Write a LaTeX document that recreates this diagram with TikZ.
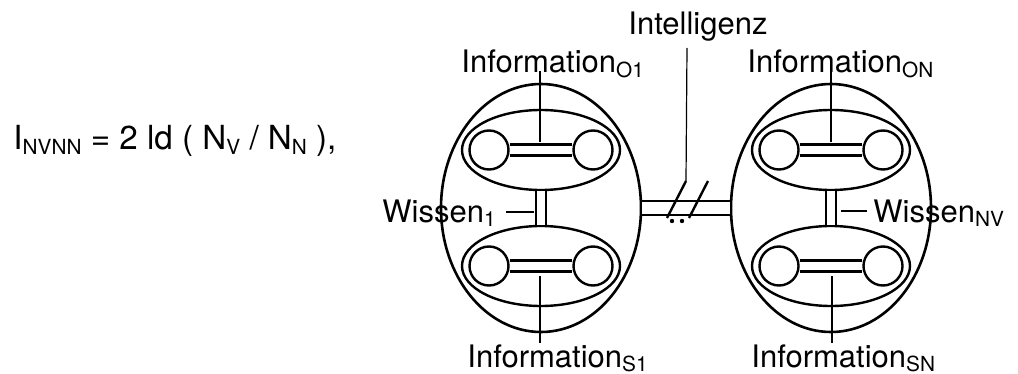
\documentclass[tikz,border=0pt]{standalone}
\usepackage{fontspec}
\setmainfont{TeX Gyre Heros}
\usetikzlibrary{shapes.geometric}

% small lowered index, as in the drawing
\newcommand{\idx}[1]{\raisebox{-0.13em}{\fontsize{10.4}{11}\selectfont #1}}

\tikzset{
  egg/.style={ellipse, draw, line width=1.3pt, minimum width=100pt, minimum height=124pt, inner sep=0pt},
  pack/.style={ellipse, draw, line width=1.2pt, minimum width=79pt, minimum height=40pt, inner sep=0pt},
  cell/.style={circle, draw, line width=1.2pt, minimum size=19.5pt, inner sep=0pt},
  bond/.style={line width=1.2pt, double, double distance=4.3pt},
  lab/.style={inner sep=0pt, font=\fontsize{15.5}{18}\selectfont},
  pin/.style={line width=0.6pt}
}

\begin{document}
\begin{tikzpicture}[x=0.5pt, y=-0.5pt]
\useasboundingbox (0,0) rectangle (1018,374);

% Formula
\node[lab, anchor=base west, font=\fontsize{16.6}{19}\selectfont] (formel) at (13,150) {I\idx{NVNN} = 2 ld ( N\idx{V} / N\idx{N} ),};

% Wissen (big eggs) and the link between them
\node[egg] (wissenL) at (541,208) {};
\node[egg] (wissenR) at (831,208) {};
\draw[bond, double distance=5.8pt] (wissenL) -- (wissenR);

% Information packs with their two cells
\foreach \w/\x in {L/541, R/831} {
    \node[pack] (packo\w) at (\x,150) {};
    \node[pack] (packs\w) at (\x,266) {};
    \draw[bond, double distance=3.8pt] (packo\w) -- (packs\w);
    \foreach \p/\y in {o/150, s/266} {
        \node[cell] (a\p\w) at (\x-52,\y) {};
        \node[cell] (b\p\w) at (\x+52,\y) {};
        \draw[bond] (a\p\w) -- (b\p\w);
    }
}

% Slashes and dots on the link
\coordinate (slashA) at (686,181);
\coordinate (slashB) at (708,181);
\draw[line width=1.2pt] (slashA) -- (667,218);
\draw[line width=1.2pt] (slashB) -- (689,218);
\fill (672,221) circle[radius=1.1pt];
\fill (682,221) circle[radius=1.1pt];

% Labels
\node[lab, anchor=base west] (intel) at (628,35) {Intelligenz};
\node[lab, anchor=base west] (infoO1) at (461,73) {Information\idx{O1}};
\node[lab, anchor=base west] (infoON) at (747,73) {Information\idx{ON}};
\node[lab, anchor=base west] (infoS1) at (467,367) {Information\idx{S1}};
\node[lab, anchor=base west] (infoSN) at (751,367) {Information\idx{SN}};
\node[lab, anchor=base west] (wissen1) at (382,222) {Wissen\idx{1}};
\node[lab, anchor=base west] (wissenNV) at (873,222) {Wissen\idx{NV}};

% Pointer lines
\coordinate (pinO1) at (540,142);
\coordinate (pinON) at (831,142);
\coordinate (pinS1) at (540,276);
\coordinate (pinSN) at (832,276);
\coordinate (pinW1) at (534,212);
\coordinate (pinWNV) at (841,211);
\draw[pin] (pinO1 |- infoO1.base) ++(0,-2) -- (pinO1);
\draw[pin] (pinON |- infoON.base) ++(0,-2) -- (pinON);
\draw[pin] (pinS1) -- (540,343);
\draw[pin] (pinSN) -- (832,343);
\draw[pin] (506,212) -- (pinW1);
\draw[pin] (pinWNV) -- (867,211);
\draw[pin] (687,48) -- (slashA);

\end{tikzpicture}
\end{document}
